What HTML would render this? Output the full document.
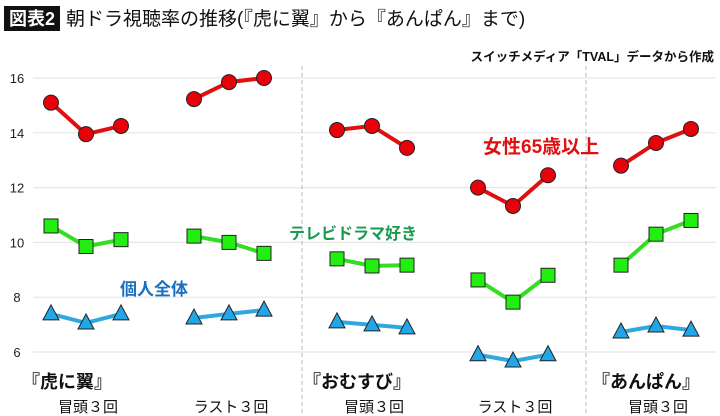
<!DOCTYPE html>
<html><head><meta charset="utf-8"><style>
body{margin:0;background:#fff;width:720px;height:416px;overflow:hidden;font-family:"Liberation Sans","Noto Sans CJK JP",sans-serif}
svg{display:block}
</style></head><body>
<svg id="c" width="720" height="416" xmlns="http://www.w3.org/2000/svg">
<rect x="4" y="6" width="56" height="25" fill="#111"/>
<text x="32" y="25" fill="#fff" font-size="18" font-weight="bold" text-anchor="middle" font-family="Liberation Sans,Noto Sans CJK JP,sans-serif">図表2</text>
<text x="66" y="25" fill="#111" font-size="19" font-family="Liberation Sans,Noto Sans CJK JP,sans-serif">朝ドラ視聴率の推移(『虎に翼』から『あんぱん』まで)</text>
<text x="714" y="61" fill="#111" font-size="12.5" font-weight="bold" text-anchor="end" font-family="Liberation Sans,Noto Sans CJK JP,sans-serif">スイッチメディア「TVAL」データから作成</text>
<g id="grid"></g><g id="marks"></g>
</svg>
<script>
const yTicks=[6,8,10,12,14,16];
const dramas=["『虎に翼』","『おむすび』","『あんぱん』"];
const periods=["冒頭３回","ラスト３回","冒頭３回","ラスト３回","冒頭３回"];
const red=[15.1,13.95,14.25,15.23,15.85,16.0,14.1,14.25,13.45,12.0,11.33,12.45,12.8,13.63,14.14];
const green=[10.6,9.85,10.1,10.23,10.0,9.6,9.4,9.14,9.17,8.63,7.82,8.8,9.17,10.3,10.8];
const blue=[7.39,7.06,7.39,7.24,7.39,7.53,7.1,6.99,6.88,5.9,5.67,5.9,6.73,6.95,6.8];
const NS="http://www.w3.org/2000/svg";
const svg=document.getElementById('c'),grid=document.getElementById('grid'),marks=document.getElementById('marks');
function y(v){return 352-(v-6)*27.4;}
const gx=[51,194,337,478,621];
function x(i){const g=Math.floor(i/3),k=i%3;return gx[g]+k*35;}
function el(t,a,p){const e=document.createElementNS(NS,t);for(const k in a)e.setAttribute(k,a[k]);(p||marks).appendChild(e);return e;}
yTicks.forEach(v=>{
 const l=el('line',{x1:33,x2:716,y1:y(v),y2:y(v),stroke:'#e6e6e6','stroke-width':1.2},grid);
 
 
 const t=el('text',{x:17,y:y(v)+5,'font-size':13,'text-anchor':'middle',fill:'#222'},grid);t.textContent=v;
 
 
});
[302,586].forEach((sx,i)=>{const l=el('line',{x1:sx,x2:sx,y1:66,y2:416,stroke:'#bbb','stroke-dasharray':'4,3'},grid);
 
 });
function series(vals,color,name,shape,fill){
 for(let g=0;g<5;g++){
  const pts=[0,1,2].map(k=>x(g*3+k)+','+y(vals[g*3+k])).join(' ');
  const p=el('polyline',{points:pts,fill:'none',stroke:color,'stroke-width':4});
  
  
 }
 vals.forEach((v,i)=>{
  const cx=x(i),cy=y(v);let m;
  if(shape==='c')m=el('circle',{cx,cy,r:7.5,fill:fill,stroke:'#222','stroke-width':1});
  else if(shape==='s')m=el('rect',{x:cx-7,y:cy-7,width:14,height:14,fill:fill,stroke:'#222','stroke-width':1});
  else m=el('polygon',{points:`${cx},${cy-9} ${cx-8},${cy+6} ${cx+8},${cy+6}`,fill:fill,stroke:'#222','stroke-width':1});
  
  
 });
}
series(red,'#e01010','women65','c','#e8000a');
series(green,'#33dd22','drama-fans','s','#22ee11');
series(blue,'#2fa8e0','all-individuals','t','#22a6e8');
function label(txt,xx,yy,col,size,name,anchor,weight){const t=el('text',{x:xx,y:yy,fill:col,'font-size':size,'font-weight':weight||'bold','text-anchor':anchor||'start'});t.textContent=txt;
 
 }
label('女性65歳以上',483,153,'#e01010',19,'legend-women65');
label('テレビドラマ好き',289,239,'#1a9a50',16,'legend-drama-fans');
label('個人全体',120,295,'#1a70c0',17,'legend-all-individuals');
[[dramas[0],22],[dramas[1],303],[dramas[2],592]].forEach((d,i)=>label(d[0],d[1],388,'#111',18,'drama-label-'+(i+1)));
periods.forEach((p,i)=>label(p,gx[i]+37,412,'#111',15,'period-label-'+(i+1),'middle','normal'));
</script>
</body></html>
